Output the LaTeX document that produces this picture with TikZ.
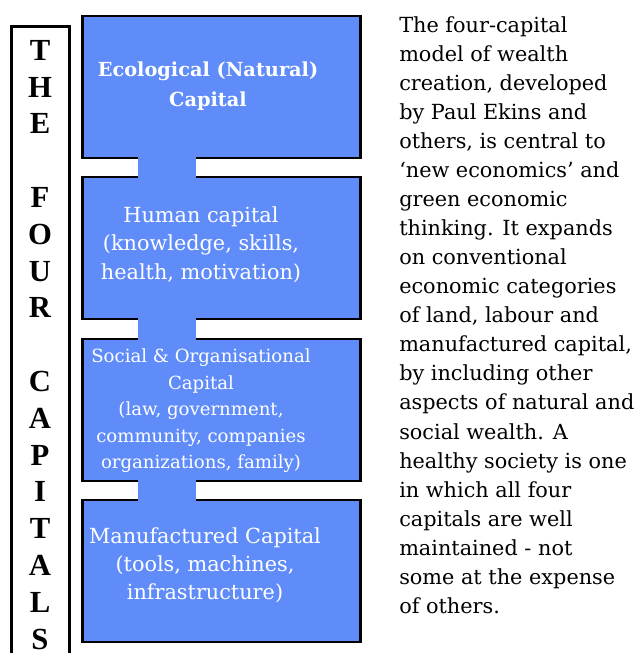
\documentclass[tikz,border=0pt]{standalone}
\usepackage{fontspec}
\setmainfont{DejaVu Serif}
\newfontfamily\timesfont{Liberation Serif}
\usepackage{tikz}
\usetikzlibrary{calc}
\definecolor{capblue}{RGB}{96,140,250}
\tikzset{
  capbox/.style={draw=black, line width=1.9pt, fill=capblue, minimum width=208.5pt, minimum height=106.5pt, inner sep=0pt, outer sep=0pt},
  capbar/.style={fill=capblue},
  captext/.style={text=white, align=center, inner sep=0pt},
}

\begin{document}
\begin{tikzpicture}[x=0.75pt, y=-0.75pt]
    \useasboundingbox (0,0) rectangle (636,653);
    % title column
    \draw [line width=2.25pt] (11,680) -- (11,26) -- (69,26) -- (69,680);
    \node [align=center, inner sep=0pt, anchor=north, font=\timesfont\bfseries\fontsize{23}{27.6}\selectfont] (title) at (40,40)
        {T\\H\\E\\~\\F\\O\\U\\R\\~\\C\\A\\P\\I\\T\\A\\L\\S};
    % the four capitals
    \node [capbox] (eco) at (221.5,87) {};
    \node [capbox] (human) at (221.5,248) {};
    \node [capbox] (social) at (221.5,410) {};
    \node [capbox] (made) at (221.5,571) {};
    % links between the boxes
    \fill [capbar] ($(eco.south west)+(55,-2)$) rectangle ($(human.north west)+(113,2)$);
    \fill [capbar] ($(human.south west)+(55,-2)$) rectangle ($(social.north west)+(113,2)$);
    \fill [capbar] ($(social.south west)+(55,-2)$) rectangle ($(made.north west)+(113,2)$);
    % box texts
    \node [captext, font=\bfseries\fontsize{14.5}{22.5}\selectfont] (ecotext) at (208,86.5)
        {Ecological (Natural)\\Capital};
    \node [captext, font=\fontsize{15.6}{21.4}\selectfont] (humantext) at (201,244.5)
        {Human capital\\(knowledge, skills,\\health, motivation)};
    \node [captext, font=\fontsize{13.6}{19.9}\selectfont] (socialtext) at (201,411)
        {Social \& Organisational\\Capital\\(law, government,\\community, companies\\organizations, family)};
    \node [captext, font=\fontsize{15.6}{21}\selectfont] (madetext) at (205,565)
        {Manufactured Capital\\(tools, machines,\\infrastructure)};
    % note on the right
    \node [align=left, inner sep=0pt, anchor=north west, font=\fontsize{15.6}{21.8}\selectfont] (note) at (399,16)
        {The four-capital\\model of wealth\\creation, developed\\by Paul Ekins and\\others, is central to\\`new economics' and\\green economic\\thinking. It expands\\on conventional\\economic categories\\of land, labour and\\manufactured capital,\\by including other\\aspects of natural and\\social wealth. A\\healthy society is one\\in which all four\\capitals are well\\maintained - not\\some at the expense\\of others.};
\end{tikzpicture}
\end{document}
